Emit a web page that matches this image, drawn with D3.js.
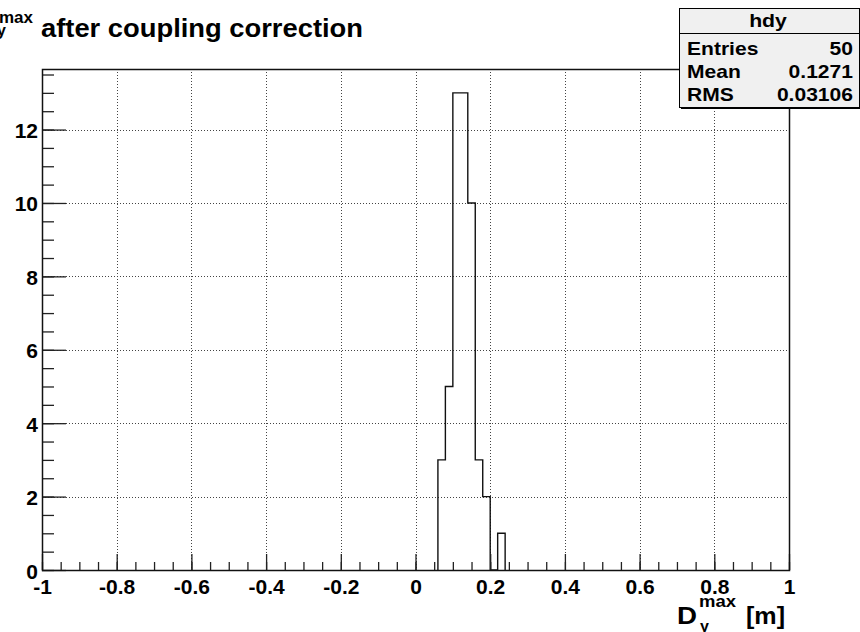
<!DOCTYPE html>
<html><head><meta charset="utf-8">
<script src="https://cdn.jsdelivr.net/npm/d3@7"></script>
<style>
body{margin:0;background:#fff}
svg{display:block}
text{font-family:"Liberation Sans",Arial,Helvetica,sans-serif;font-weight:bold;fill:#000}
</style>
</head><body>
<svg id="c" width="860" height="632"></svg>
<script>
// ---- data ----
const binLowEdges = [0.06, 0.08, 0.10, 0.12, 0.14, 0.16, 0.18, 0.20, 0.22];
const binCounts   = [3, 5, 13, 13, 10, 3, 2, 0, 1];
const binWidth = 0.02;
const xDomain = [-1, 1];
const yDomain = [0, 13.65];
const xTickValues = [-1, -0.8, -0.6, -0.4, -0.2, 0, 0.2, 0.4, 0.6, 0.8, 1];
const xTickLabels = ["-1", "-0.8", "-0.6", "-0.4", "-0.2", "0", "0.2", "0.4", "0.6", "0.8", "1"];
const yTickValues = [0, 2, 4, 6, 8, 10, 12];
const yTickLabels = ["0", "2", "4", "6", "8", "10", "12"];
const xMinorStep = 0.05;
const yMinorStep = 0.5;
const statsTitle = "hdy";
const statsNames = ["Entries", "Mean", "RMS"];
const statsValues = ["50", "0.1271", "0.03106"];

// ---- layout ----
const L = 42, R = 789, T = 69, B = 570;
const svg = d3.select("#c");
const x = d3.scaleLinear().domain(xDomain).range([L, R]);
const y = d3.scaleLinear().domain(yDomain).range([B, T]);

function stext(g, px, py, str, size, anchor, sx) {
  return g.append("text")
    .attr("transform", `translate(${px},${py}) scale(${sx},1)`)
    .attr("text-anchor", anchor)
    .style("font-size", size + "px")
    .text(str);
}

// grid
const grid = svg.append("g").attr("stroke", "#444").attr("stroke-dasharray", "1,2")
  .attr("shape-rendering", "crispEdges");
grid.selectAll("line.v").data(xTickValues.filter(d => d > xDomain[0] && d < xDomain[1]))
  .join("line").attr("class", "v")
  .attr("x1", d => Math.round(x(d)) + 0.5).attr("x2", d => Math.round(x(d)) + 0.5)
  .attr("y1", T).attr("y2", B);
grid.selectAll("line.h").data(yTickValues.filter(d => d > yDomain[0]))
  .join("line").attr("class", "h")
  .attr("y1", d => Math.round(y(d)) + 0.5).attr("y2", d => Math.round(y(d)) + 0.5)
  .attr("x1", L).attr("x2", R);

// histogram outline
const pts = [[binLowEdges[0], 0]];
binLowEdges.forEach((lo, i) => pts.push([lo, binCounts[i]]));
const lastHi = binLowEdges[binLowEdges.length - 1] + binWidth;
pts.push([lastHi, binCounts[binCounts.length - 1]]);
pts.push([lastHi, 0]);
svg.append("path")
  .attr("d", d3.line().x(d => x(d[0])).y(d => y(d[1])).curve(d3.curveStepAfter)(pts))
  .attr("fill", "none").attr("stroke", "#111").attr("stroke-width", 1.4);

// minor ticks
const xMinor = d3.range(xDomain[0], xDomain[1] + 1e-9, xMinorStep);
const yMinor = d3.range(yDomain[0], yDomain[1], yMinorStep);
svg.append("g").attr("transform", `translate(0,${B})`)
  .call(d3.axisBottom(x).tickValues(xMinor).tickSize(-8).tickFormat(""))
  .call(g => g.select(".domain").remove())
  .call(g => g.selectAll("line").attr("stroke", "#222").attr("stroke-width", 1.3));
svg.append("g").attr("transform", `translate(${L},0)`)
  .call(d3.axisLeft(y).tickValues(yMinor).tickSize(-12).tickFormat(""))
  .call(g => g.select(".domain").remove())
  .call(g => g.selectAll("line").attr("stroke", "#222").attr("stroke-width", 1.3));

// major ticks + labels
const xa = svg.append("g").attr("transform", `translate(0,${B})`)
  .call(d3.axisBottom(x).tickValues(xTickValues).tickSize(-16)
        .tickFormat((d, i) => xTickLabels[i]))
  .call(g => g.select(".domain").remove());
xa.selectAll("line").attr("stroke", "#222").attr("stroke-width", 1.3);
xa.selectAll("text").attr("y", null).attr("dy", null)
  .attr("transform", "translate(0,24) scale(1.0,1)")
  .style("font-size", "21px").attr("font-family", null).attr("fill", "#000");

const ya = svg.append("g").attr("transform", `translate(${L},0)`)
  .call(d3.axisLeft(y).tickValues(yTickValues).tickSize(-24)
        .tickFormat((d, i) => yTickLabels[i]))
  .call(g => g.select(".domain").remove());
ya.selectAll("line").attr("stroke", "#222").attr("stroke-width", 1.3);
ya.selectAll("text").attr("x", null).attr("dy", null)
  .attr("transform", "translate(-4,8) scale(1.0,1)")
  .style("font-size", "21px").attr("font-family", null).attr("fill", "#000");

// frame
svg.append("rect").attr("x", L + 0.5).attr("y", T + 0.5)
  .attr("width", R - L).attr("height", B - T)
  .attr("fill", "none").attr("stroke", "#111").attr("stroke-width", 1.5);

// title
const tg = svg.append("g");
tg.append("text").attr("x", -20).attr("y", 37).style("font-size", "25px").text("D");
tg.append("text").attr("x", -1).attr("y", 23).style("font-size", "17px")
  .attr("textLength", 34).attr("lengthAdjust", "spacingAndGlyphs").text("max");
tg.append("text").attr("x", -3).attr("y", 36).style("font-size", "16px").text("y");
tg.append("text").attr("x", 41).attr("y", 37).style("font-size", "25px")
  .attr("textLength", 322).attr("lengthAdjust", "spacingAndGlyphs")
  .text("after coupling correction");

// x axis title
const xt = svg.append("g");
xt.append("text").attr("x", 677).attr("y", 624).style("font-size", "24px")
  .attr("textLength", 20).attr("lengthAdjust", "spacingAndGlyphs").text("D");
xt.append("text").attr("x", 699).attr("y", 607).style("font-size", "17px")
  .attr("textLength", 37).attr("lengthAdjust", "spacingAndGlyphs").text("max");
xt.append("text").attr("x", 700).attr("y", 632).style("font-size", "16px").text("y");
xt.append("text").attr("x", 746).attr("y", 624).style("font-size", "24px")
  .attr("textLength", 39).attr("lengthAdjust", "spacingAndGlyphs").text("[m]");

// stats box
const sb = svg.append("g");
const bx = 679, by = 8, bw = 180, bh = 99;
sb.append("rect").attr("x", bx + 2).attr("y", by + 2).attr("width", bw).attr("height", bh).attr("fill", "#000");
sb.append("rect").attr("x", bx + 0.5).attr("y", by + 0.5).attr("width", bw).attr("height", bh)
  .attr("fill", "#f0f0f0").attr("stroke", "#000");
sb.append("line").attr("x1", bx).attr("x2", bx + bw).attr("y1", 33.5).attr("y2", 33.5).attr("stroke", "#000");
stext(sb, 768, 27, statsTitle, 18, "middle", 1.18);
const rowY = [55, 78, 101];
statsNames.forEach((n, i) => {
  stext(sb, 687, rowY[i], n, 18, "start", 1.17);
  stext(sb, 853, rowY[i], statsValues[i], 18, "end", 1.17);
});
</script>
</body></html>
